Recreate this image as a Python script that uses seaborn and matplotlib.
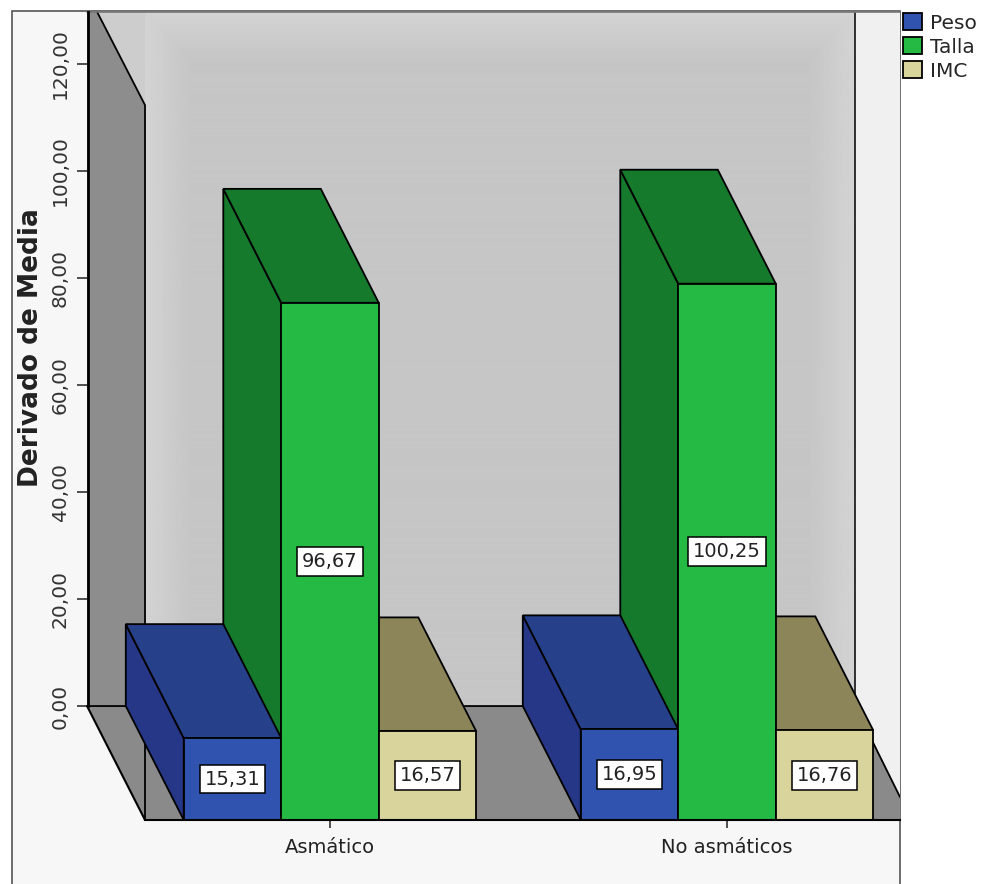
import matplotlib
matplotlib.use("Agg")
import matplotlib.pyplot as plt
from matplotlib.patches import Polygon, Rectangle
import numpy as np
import pandas as pd
import seaborn as sns

groups = ["Asmático", "No asmáticos"]
measures = ["Peso", "Talla", "IMC"]
peso = [15.31, 16.95]
talla = [96.67, 100.25]
imc = [16.57, 16.76]
y_ticks = [0, 20, 40, 60, 80, 100, 120]

front_colors = {"Peso": "#3153b0", "Talla": "#24ba44", "IMC": "#d9d39c"}
top_colors = {"Peso": "#27408a", "Talla": "#157a2b", "IMC": "#8c8559"}
side_colors = {"Peso": "#263788", "Talla": "#157a2b", "IMC": "#8c8559"}

table = pd.DataFrame({
    "grupo": groups * 3,
    "medida": [m for m in measures for _ in groups],
    "valor": peso + talla + imc,
})

W, H = 984, 884
sns.set_theme(style="white")
plt.rcParams["font.family"] = ["DejaVu Sans"]

fig = plt.figure(figsize=(W / 100, H / 100), dpi=100, facecolor="white")
fig.patches.append(Rectangle((12 / W, -0.02), 888 / W, 1.02 - 11 / H, transform=fig.transFigure,
                             facecolor="#f7f7f7", edgecolor="#555555", linewidth=1.2, zorder=-5))
ax = fig.add_axes([88 / W, (H - 820) / H, 812 / W, 808 / H])
ax.patch.set_alpha(0)

# Scale: one category step and one value unit on the front plane
sns.barplot(data=table, x="grupo", y="valor", hue="medida", order=groups, hue_order=measures,
            palette=front_colors, saturation=1, width=0.7368, gap=0, errorbar=None,
            edgecolor="black", linewidth=1.3, zorder=5, ax=ax)

depth_x, depth_y = 0.146, 21.3
left, right, top = -0.466, 1.4358, 151.03
wall_right = 1.3224


def shape(points, face, order, edge="none", lw=0):
    ax.add_patch(Polygon(points, closed=True, facecolor=face, edgecolor=edge, linewidth=lw,
                         zorder=order, clip_on=False))


# Back wall shaded a little lighter towards its left, top and right borders
rows, cols = np.mgrid[0:694, 0:710]
edge_dist = np.minimum(np.minimum(cols, 709 - cols), rows)
shade = 0.775 + 0.055 * np.clip(1 - edge_dist / 45, 0, 1)
ax.imshow(shade, cmap="gray", vmin=0, vmax=1, aspect="auto", zorder=0.6,
          extent=(left, wall_right, depth_y, top), origin="upper")
ax.set_xlim(-0.6096, 1.4358)
ax.set_ylim(0, 151.03)

# Box of the 3D scene: back wall, right strip, left wall and floor
shape([(left - depth_x, depth_y), (wall_right, depth_y), (wall_right, top), (left - depth_x, top)],
      "#cdcdcd", 0.5)
shape([(wall_right, 0), (right, 0), (right, top), (wall_right, top)], "#f0f0f0", 0.5)
shape([(left - depth_x, depth_y), (left - depth_x, top), (-0.5865, top), (left, top - 17.4), (left, depth_y)],
      "#8d8d8d", 0.8)
shape([(left - depth_x, depth_y), (left, 0), (right, 0), (right, 4.3), (wall_right, depth_y)],
      "#8a8a8a", 0.8)
ax.plot([-0.5865, left, left], [top, top - 17.4, 0], color="black", lw=1.3, zorder=1, clip_on=False)
ax.plot([left - depth_x, wall_right, right], [depth_y, depth_y, 4.3], color="black", lw=1.3, zorder=1)
ax.plot([left - depth_x, left], [depth_y, 0], color="black", lw=1.5, zorder=1, clip_on=False)
ax.plot([wall_right, wall_right], [depth_y, top], color="#222222", lw=1.3, zorder=1)

# Side and top faces follow the front bars; the nearer series is painted last
layer = {"IMC": 2, "Talla": 2.5, "Peso": 3}
for name, container in zip(measures, ax.containers):
    for bar in container:
        x0, w, h = bar.get_x(), bar.get_width(), bar.get_height()
        shape([(x0 - depth_x, depth_y), (x0, 0), (x0, h), (x0 - depth_x, h + depth_y)],
              side_colors[name], layer[name], "black", 1.3)
        shape([(x0, h), (x0 + w, h), (x0 + w - depth_x, h + depth_y), (x0 - depth_x, h + depth_y)],
              top_colors[name], layer[name], "black", 1.3)
        ax.text(x0 + w / 2, h / 2, f"{h:.2f}".replace(".", ","), ha="center", va="center",
                fontsize=14, color="#222222", zorder=6,
                bbox=dict(boxstyle="square,pad=0.25", facecolor="white", edgecolor="black", linewidth=1.1))

ax.set_yticks([v + depth_y for v in y_ticks], [f"{v:.2f}".replace(".", ",") for v in y_ticks],
              rotation=90, va="center", fontsize=14.5, color="#333333")
ax.tick_params(axis="y", left=True, length=8, width=1.2, pad=5, color="#333333")
ax.tick_params(axis="x", bottom=True, length=6, width=1.2, pad=7, labelsize=14, color="#333333",
               labelcolor="#222222")
for side in ("top", "right"):
    ax.spines[side].set_visible(False)
ax.spines["left"].set_bounds(depth_y, top)
ax.spines["left"].set_linewidth(2)
ax.spines["left"].set_color("black")
ax.spines["bottom"].set_bounds(left, right)
ax.spines["bottom"].set_linewidth(1.5)
ax.spines["bottom"].set_color("black")
ax.spines["bottom"].set_zorder(7)

ax.set_xlabel("")
ax.set_ylabel("Derivado de Media", fontsize=19, fontweight="bold", color="#222222")
ax.yaxis.set_label_coords((44 - 88) / 812, (820 - 348) / 808)

# Top border of the scene
ax.plot([left - depth_x, right], [top, top], color="#777777", lw=1.2, zorder=1, clip_on=False)

sns.move_legend(ax, "upper left", bbox_to_anchor=(903 / W, 1 - 13 / H), bbox_transform=fig.transFigure,
                frameon=False, title=None, fontsize=14.5, handlelength=0.95, handleheight=0.95,
                handletextpad=0.4, labelspacing=0.22, borderpad=0, borderaxespad=0)

fig.savefig("out.png", dpi=100)
